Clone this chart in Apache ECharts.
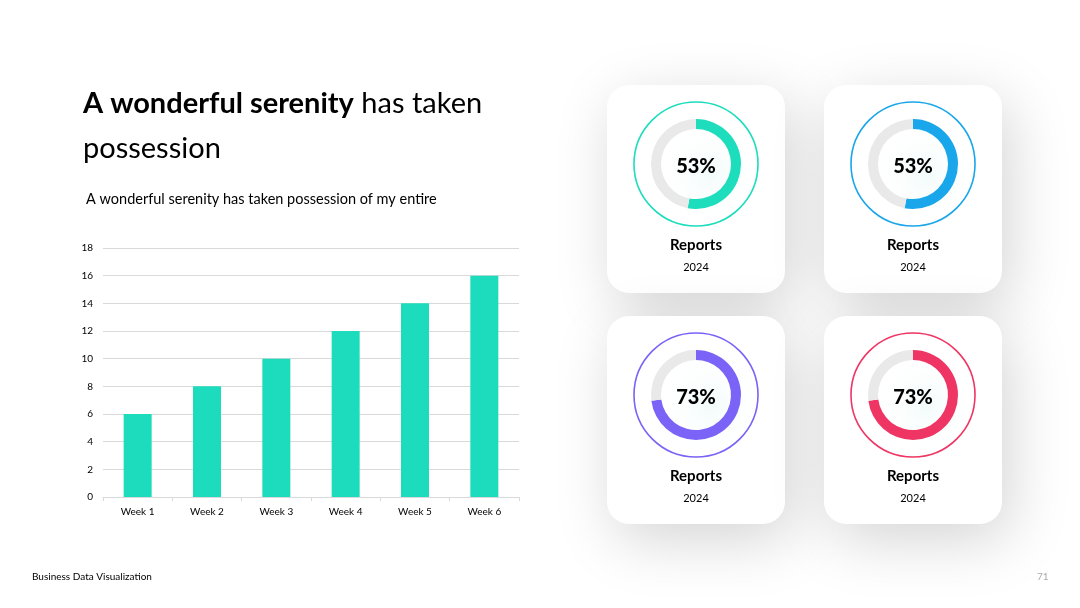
<!DOCTYPE html>
<html>
<head>
<meta charset="utf-8">
<script src="https://cdn.jsdelivr.net/npm/echarts@6/dist/echarts.min.js"></script>
<style>
  html, body { margin: 0; padding: 0; background: #fff; }
  #grafico { width: 1080px; height: 608px; }
</style>
</head>
<body>
<div id="grafico"></div>
<script>
/* dados do grafico de barras */
var weeks = ['Week 1', 'Week 2', 'Week 3', 'Week 4', 'Week 5', 'Week 6'];
var weekValues = [6, 8, 10, 12, 14, 16];

/* dados dos cartoes */
var cardPercents = [53, 53, 73, 73];
var cardTitles = ['Reports', 'Reports', 'Reports', 'Reports'];
var cardYears = ['2024', '2024', '2024', '2024'];

var cardColors = ['#1dddbd', '#1aa6ea', '#7a63f6', '#ef3564'];
var FONT = 'Lato';

var dom = document.getElementById('grafico');
var myChart = echarts.init(dom);

// posicoes dos cartoes (2 x 2)
var cardX = [607, 824];
var cardY = [85, 316];
var cardW = 178, cardH = 208;

var graphics = [];
var pieSeries = [];

graphics.push({
    type: 'text', left: 83, top: 81, z: 100,
    style: {
        text: '{b|A wonderful serenity} has taken\npossession',
        fill: '#000', font: '29px ' + FONT, lineHeight: 45,
        rich: { b: { fontWeight: 'bold', fontSize: 29, fontFamily: FONT } }
    }
});
graphics.push({
    type: 'text', left: 86, top: 192, z: 100,
    style: { text: 'A wonderful serenity has taken possession of my entire', fill: '#000', font: '14.5px ' + FONT }
});
graphics.push({
    type: 'text', left: 32, top: 572, z: 100,
    style: { text: 'Business Data Visualization', fill: '#000', font: '10px ' + FONT }
});
graphics.push({
    type: 'text', left: 1037, top: 572, z: 100,
    style: { text: '71', fill: '#aaa', font: '10px ' + FONT }
});

for (var i = 0; i < cardPercents.length; i++) {
    var x = cardX[i % 2];
    var y = cardY[Math.floor(i / 2)];
    var cx = x + 89;
    var cy = y + 79;

    graphics.push({
        type: 'rect', z: 0,
        shape: { x: x, y: y, width: cardW, height: cardH, r: 22 },
        style: {
            fill: '#fff',
            shadowBlur: 60, shadowColor: 'rgba(0,0,0,0.17)',
            shadowOffsetX: 8, shadowOffsetY: 16
        }
    });
    // leve brilho atras do donut
    graphics.push({
        type: 'circle', z: 1,
        shape: { cx: cx + 14, cy: cy + 10, r: 55 },
        style: {
            fill: {
                type: 'radial', x: 0.5, y: 0.5, r: 0.5,
                colorStops: [
                    { offset: 0, color: 'rgba(236,250,248,0.7)' },
                    { offset: 1, color: 'rgba(255,255,255,0)' }
                ]
            }
        }
    });
    graphics.push({
        type: 'circle', z: 1,
        shape: { cx: cx, cy: cy, r: 62 },
        style: { fill: 'none', stroke: cardColors[i], lineWidth: 1.6 }
    });
    graphics.push({
        type: 'text', z: 100,
        x: cx, y: cy + 3,
        style: {
            text: cardPercents[i] + '%', fill: '#000',
            fontFamily: FONT, fontWeight: 900, fontSize: 20,
            align: 'center', verticalAlign: 'middle'
        }
    });
    graphics.push({
        type: 'text', z: 100,
        x: cx, y: y + 160,
        style: { text: cardTitles[i], fill: '#000', font: 'bold 15px ' + FONT, align: 'center', verticalAlign: 'middle' }
    });
    graphics.push({
        type: 'text', z: 100,
        x: cx, y: y + 182,
        style: { text: cardYears[i], fill: '#000', font: '11px ' + FONT, align: 'center', verticalAlign: 'middle' }
    });

    pieSeries.push({
        type: 'pie',
        center: [cx, cy],
        radius: [35, 45],
        startAngle: 90,
        clockwise: true,
        silent: true,
        animation: false,
        label: { show: false },
        labelLine: { show: false },
        data: [
            { value: cardPercents[i], itemStyle: { color: cardColors[i] } },
            { value: 100 - cardPercents[i], itemStyle: { color: '#e9e9e9' } }
        ]
    });
}

var option = {
    backgroundColor: '#fff',
    animation: false,
    textStyle: { fontFamily: FONT },
    graphic: { elements: graphics },
    grid: { left: 103, right: 561, top: 248, bottom: 111, containLabel: false },
    xAxis: {
        type: 'category',
        data: weeks,
        axisLine: { show: true, lineStyle: { color: '#d9d9d9' } },
        axisTick: { show: true, length: 4, lineStyle: { color: '#d9d9d9' } },
        axisLabel: { color: '#000', fontSize: 10, margin: 10, fontFamily: FONT }
    },
    yAxis: {
        type: 'value',
        min: 0, max: 18, interval: 2,
        axisLine: { show: false },
        axisTick: { show: false },
        splitLine: { lineStyle: { color: '#d9d9d9' } },
        axisLabel: { color: '#000', fontSize: 10, margin: 10, fontFamily: FONT }
    },
    series: [{
        type: 'bar',
        data: weekValues,
        barWidth: 28,
        itemStyle: { color: '#1ddcbd' },
        silent: true
    }].concat(pieSeries)
};

if (option && typeof option === 'object') {
    myChart.setOption(option, true);
}
</script>
</body>
</html>
